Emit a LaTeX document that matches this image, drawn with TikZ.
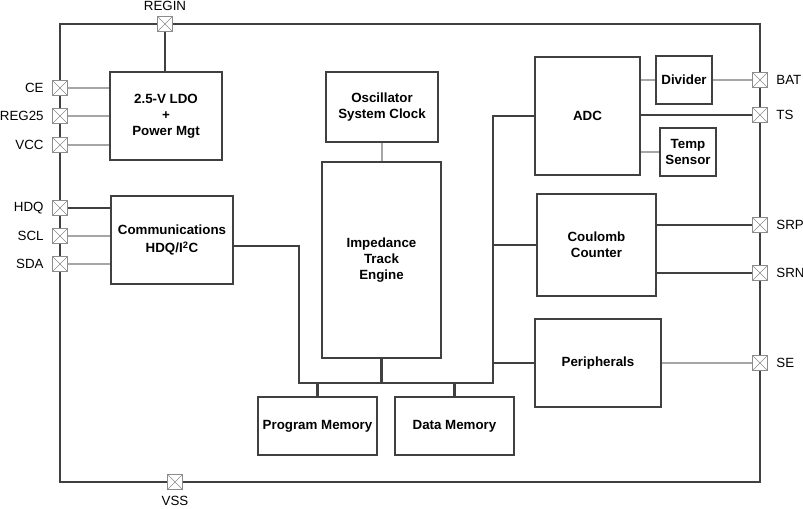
\documentclass[tikz,border=0pt]{standalone}
\usepackage{fontspec}
\setmainfont{Liberation Sans}
\usetikzlibrary{positioning, calc}
\definecolor{chipDark}{HTML}{404040}
\definecolor{chipLight}{HTML}{A6A6A6}
\definecolor{pinGray}{HTML}{8C8C8C}

\begin{document}
\begin{tikzpicture}[x=0.75pt, y=-0.75pt,
        block/.style={rectangle, draw=chipDark, line width=1.4pt, fill=white,
          inner sep=0pt, align=center, font=\fontsize{10}{12}\selectfont\bfseries},
        pinbox/.style={rectangle, draw=pinGray, line width=0.7pt, fill=white,
          minimum size=11.5pt, inner sep=0pt,
          path picture={\draw[pinGray, line width=0.5pt]
            (path picture bounding box.north west) -- (path picture bounding box.south east)
            (path picture bounding box.south west) -- (path picture bounding box.north east);}},
        pinlabel/.style={font=\fontsize{10}{12}\selectfont, inner sep=1pt},
        darkline/.style={draw=chipDark, line width=0.9pt},
        thinline/.style={draw=chipLight, line width=0.9pt},
        bus/.style={draw=chipDark, line width=1.7pt},
        label distance=5pt
      ]
        \useasboundingbox (0,0) rectangle (803,508);
        % chip outline
        \draw[chipDark, line width=1.3pt] (60,24) rectangle (760,482);

        % blocks
        \node[block, minimum width=84pt, minimum height=66pt] (ldo) at (166,116) {2.5-V LDO\\+\\Power Mgt};
        \node[block, minimum width=91.5pt, minimum height=66pt] (comm) at (172,240) {Communications\\[2pt]HDQ/I\textsuperscript{2}C};
        \node[block, minimum width=84pt, minimum height=52.5pt] (osc) at (382,107) {Oscillator\\System Clock};
        \node[block, minimum width=89pt, minimum height=147pt] (ite) at (381.5,260) {Impedance\\Track\\Engine};
        \node[block, minimum width=89pt, minimum height=43.5pt] (pm) at (317.5,426) {Program Memory};
        \node[block, minimum width=89pt, minimum height=43.5pt] (dm) at (454.5,426) {Data Memory};
        \node[block, minimum width=79pt, minimum height=88.5pt] (adc) at (587.5,116) {ADC};
        \node[block, minimum width=42pt, minimum height=36pt] (div) at (684,80) {Divider};
        \node[block, minimum width=42pt, minimum height=36pt] (temp) at (688,152) {Temp\\Sensor};
        \node[block, minimum width=89pt, minimum height=76.5pt] (cc) at (596.5,245) {Coulomb\\Counter};
        \node[block, minimum width=94.5pt, minimum height=66pt] (per) at (598,363) {Peripherals};

        % pins
        \node[pinbox, label={[pinlabel, label distance=3pt]above:REGIN}] (regin) at (165,24) {};
        \node[pinbox, label={[pinlabel, label distance=3pt]below:VSS}] (vss) at (175,482) {};
        \node[pinbox, label={[pinlabel]left:CE}] (ce) at (60,88) {};
        \node[pinbox, label={[pinlabel]left:REG25}] (reg) at (60,116) {};
        \node[pinbox, label={[pinlabel]left:VCC}] (vcc) at (60,145) {};
        \node[pinbox, label={[pinlabel]left:HDQ}] (hdq) at (60,208) {};
        \node[pinbox, label={[pinlabel]left:SCL}] (scl) at (60,236) {};
        \node[pinbox, label={[pinlabel]left:SDA}] (sda) at (60,264) {};
        \node[pinbox, label={[pinlabel]right:BAT}] (bat) at (760,80) {};
        \node[pinbox, label={[pinlabel]right:TS}] (ts) at (760,115) {};
        \node[pinbox, label={[pinlabel]right:SRP}] (srp) at (760,225) {};
        \node[pinbox, label={[pinlabel]right:SRN}] (srn) at (760,273) {};
        \node[pinbox, label={[pinlabel]right:SE}] (se) at (760,363) {};

        % pin connections
        \draw[darkline] (regin.south) -- (regin.south |- ldo.north);
        \draw[thinline] (ce.east) -- (ce.east -| ldo.west);
        \draw[thinline] (reg.east) -- (reg.east -| ldo.west);
        \draw[thinline] (vcc.east) -- (vcc.east -| ldo.west);
        \draw[darkline] (hdq.east) -- (hdq.east -| comm.west);
        \draw[thinline] (scl.east) -- (scl.east -| comm.west);
        \draw[thinline] (sda.east) -- (sda.east -| comm.west);
        \draw[thinline] (div.east) -- (bat.west);
        \draw[thinline] (adc.east |- div.west) -- (div.west);
        \draw[darkline] (adc.east |- ts.west) -- (ts.west);
        \draw[thinline] (adc.east |- temp.west) -- (temp.west);
        \draw[darkline] (cc.east |- srp.west) -- (srp.west);
        \draw[darkline] (cc.east |- srn.west) -- (srn.west);
        \draw[thinline] (per.east) -- (se.west);
        \draw[thinline] (osc.south) -- (osc.south |- ite.north);

        % internal bus
        \coordinate (busL) at (299,383);
        \coordinate (busR) at (493,383);
        \coordinate (cj) at (299,246);
        \draw[bus] (cj -| comm.east) -- (cj) -- (busL) -- (busR) -- (busR |- adc.west) -- (adc.west);
        \draw[bus] (busR |- cc.west) -- (cc.west);
        \draw[bus] (busR |- per.west) -- (per.west);
        \draw[bus] (ite.south) -- (ite.south |- busL);
        \draw[bus] (pm.north) -- (pm.north |- busL);
        \draw[bus] (dm.north) -- (dm.north |- busL);
      \end{tikzpicture}
\end{document}
